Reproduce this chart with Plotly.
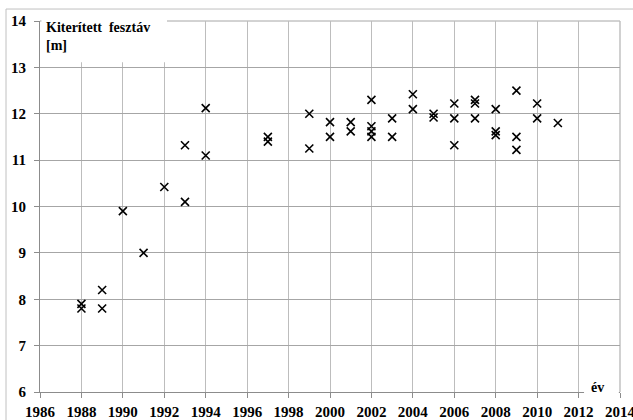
import plotly.graph_objects as go

# Data
years = [1988, 1988, 1989, 1989, 1990, 1991, 1992, 1993, 1993, 1994, 1994,
         1997, 1997, 1999, 1999, 2000, 2000, 2001, 2001,
         2002, 2002, 2002, 2002, 2003, 2003, 2004, 2004, 2005, 2005,
         2006, 2006, 2006, 2007, 2007, 2007, 2008, 2008, 2008,
         2009, 2009, 2009, 2010, 2010, 2011]
spans = [7.9, 7.8, 8.2, 7.8, 9.9, 9.0, 10.42, 10.1, 11.32, 11.1, 12.12,
         11.5, 11.4, 12.0, 11.25, 11.82, 11.5, 11.82, 11.62,
         12.3, 11.73, 11.62, 11.5, 11.9, 11.5, 12.42, 12.1, 12.0, 11.92,
         12.22, 11.9, 11.32, 12.3, 12.22, 11.9, 12.1, 11.62, 11.54,
         12.5, 11.5, 11.22, 12.22, 11.9, 11.8]

x_ticks = list(range(1986, 2015, 2))
y_ticks = list(range(6, 15, 1))

y_title = "Kiterített  fesztáv<br>[m]"
x_title = "év"

FONT = "Liberation Serif"
tickfont = dict(family=FONT, size=15, color="black")
XGRID = "#bdbdbd"
YGRID = "#a6a6a6"

fig = go.Figure()
fig.add_trace(go.Scatter(
    x=years, y=spans, mode="markers",
    marker=dict(symbol="x-thin", size=8, color="black",
                line=dict(color="black", width=1.6)),
    showlegend=False, cliponaxis=False, hoverinfo="skip",
))

fig.update_xaxes(
    range=[1986, 2014], tickvals=x_ticks, ticktext=["<b>%d</b>" % v for v in x_ticks],
    showgrid=True, gridcolor=XGRID, gridwidth=1.4,
    showline=True, linecolor="#8c8c8c", linewidth=1,
    ticks="outside", ticklen=5, tickcolor="#8c8c8c",
    tickfont=tickfont, zeroline=False, automargin=False,
    ticklabeloverflow="allow", ticklabelstandoff=1,
)
fig.update_yaxes(
    range=[6, 14], tickvals=y_ticks, ticktext=["<b>%d</b>" % v for v in y_ticks],
    showgrid=True, gridcolor=YGRID, gridwidth=1,
    showline=True, linecolor="#8c8c8c", linewidth=1,
    ticks="outside", ticklen=5, tickcolor="#8c8c8c",
    tickfont=tickfont, zeroline=False, automargin=False,
    ticklabeloverflow="allow", ticklabelstandoff=5,
)

shapes = [
    # grid lines on the range edges (14 and 2014)
    dict(type="line", xref="paper", yref="paper", x0=0, x1=1, y0=1, y1=1,
         line=dict(color=YGRID, width=1), layer="below"),
    dict(type="line", xref="paper", yref="paper", x0=1, x1=1, y0=0, y1=1,
         line=dict(color=XGRID, width=1.4), layer="below"),
    # outer chart frame (top & left visible)
    dict(type="line", xref="paper", yref="paper", x0=-0.0586, x1=1.03,
         y0=1.0323, y1=1.0323, line=dict(color="#c0c0c0", width=1), layer="above"),
    dict(type="line", xref="paper", yref="paper", x0=-0.0586, x1=-0.0586,
         y0=1.0323, y1=-0.08, line=dict(color="#c0c0c0", width=1), layer="above"),
    # white box behind the axis title
    dict(type="rect", xref="paper", yref="paper", x0=0.0025, x1=0.219,
         y0=0.889, y1=1.02, fillcolor="white", line=dict(width=0), layer="above"),
    # white box behind "év"
    dict(type="rect", xref="paper", yref="paper", x0=0.938, x1=0.998,
         y0=-0.006, y1=0.038, fillcolor="white", line=dict(width=0), layer="above"),
]

annotations = [
    dict(text="<b>" + y_title.replace("<br>", "</b><br><b>") + "</b>",
         xref="paper", yref="paper", x=0.007, y=1.008,
         xanchor="left", yanchor="top", align="left", showarrow=False,
         font=dict(family=FONT, size=14, color="black")),
    dict(text="<b>" + x_title + "</b>", xref="paper", yref="paper", x=0.962, y=0.011,
         xanchor="center", yanchor="middle", showarrow=False,
         font=dict(family=FONT, size=14, color="black")),
]

fig.update_layout(
    width=633, height=420,
    margin=dict(l=40, r=13, t=21, b=28),
    paper_bgcolor="white", plot_bgcolor="white",
    shapes=shapes, annotations=annotations,
)

fig.write_html("out.html", config={"displayModeBar": False},
               post_script="document.body.style.margin='0';")
